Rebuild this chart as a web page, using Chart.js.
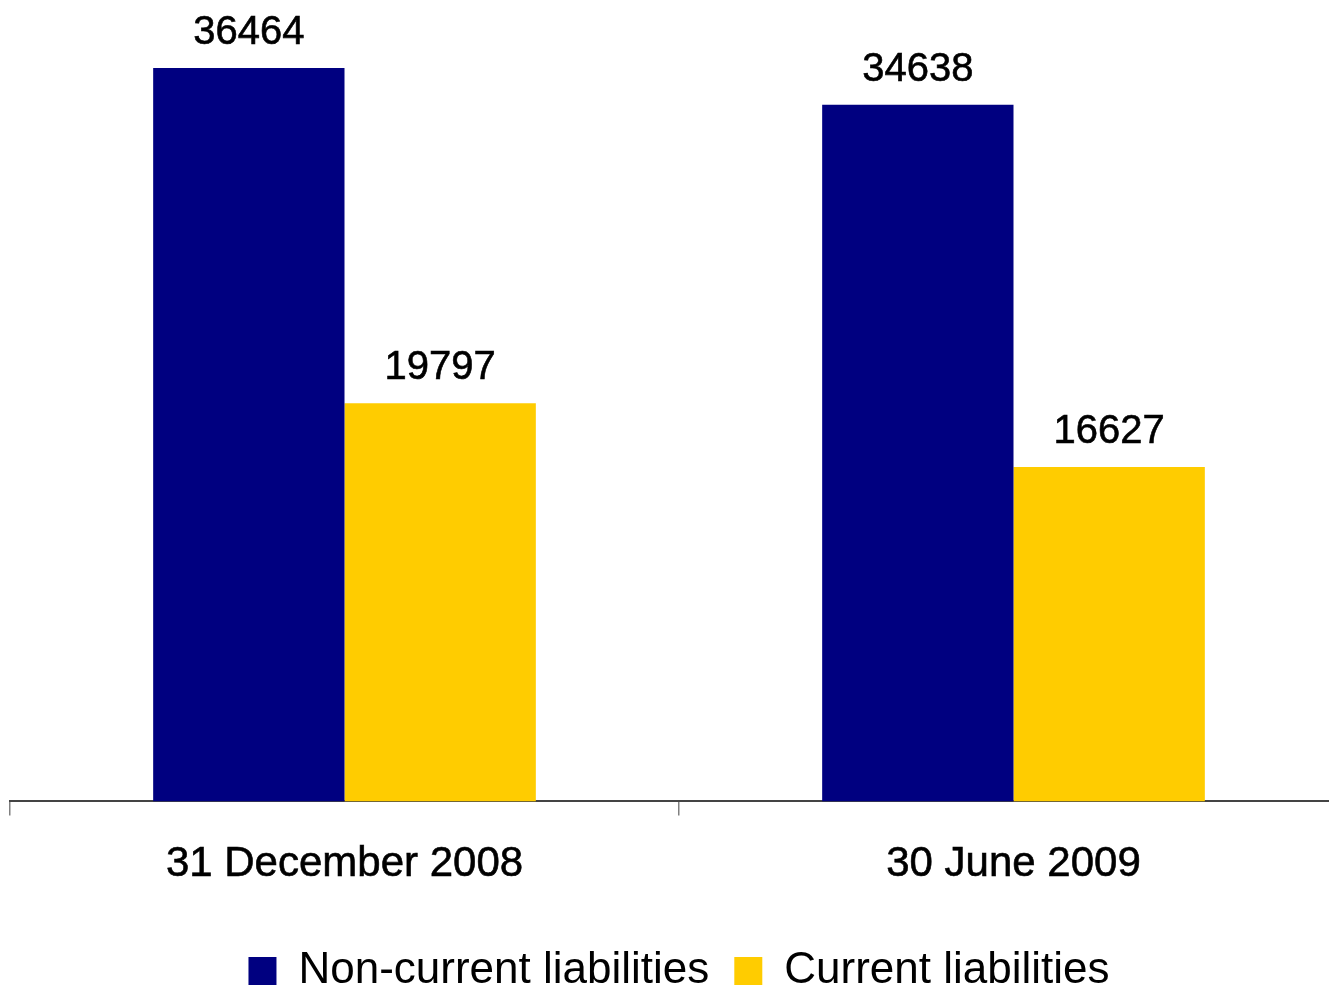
<!DOCTYPE html>
<html>
<head>
<meta charset="utf-8">
<script src="https://cdn.jsdelivr.net/npm/chart.js@4"></script>
<style>
  html, body { margin: 0; padding: 0; background: #fff; overflow: hidden; }
  #wrap { position: absolute; left: 0; top: -3px; width: 1348px; height: 1006px; }
</style>
</head>
<body>
<div id="wrap"><canvas id="liabChart"></canvas></div>
<script>
// data
const periods = ['31 December 2008', '30 June 2009'];
const nonCurrent = [36464, 34638];
const current = [19797, 16627];

// value labels above the bars
const barValues = {
  id: 'barValues',
  afterDatasetsDraw(chart) {
    const ctx = chart.ctx;
    ctx.save();
    ctx.font = '40px "Liberation Sans", Arial, sans-serif';
    ctx.fillStyle = '#000';
    ctx.strokeStyle = '#000';
    ctx.lineWidth = 0.6;
    ctx.textAlign = 'center';
    ctx.textBaseline = 'alphabetic';
    chart.data.datasets.forEach((ds, i) => {
      chart.getDatasetMeta(i).data.forEach((bar, j) => {
        const txt = String(ds.data[j]);
        ctx.fillText(txt, bar.x, bar.y - 24);
        ctx.strokeText(txt, bar.x, bar.y - 24);
      });
    });
    ctx.restore();
  }
};

new Chart(document.getElementById('liabChart'), {
  type: 'bar',
  data: {
    labels: periods,
    datasets: [
      { label: 'Non-current liabilities', data: nonCurrent, backgroundColor: '#000080' },
      { label: 'Current liabilities', data: current, backgroundColor: '#FFCC00' }
    ]
  },
  options: {
    responsive: true,
    maintainAspectRatio: false,
    animation: false,
    layout: { padding: { left: 10, right: 0, top: 0, bottom: 0 } },
    datasets: { bar: { categoryPercentage: 0.572, barPercentage: 1 } },
    scales: {
      x: {
        grid: { drawOnChartArea: false, drawTicks: true, tickLength: 14, color: '#808080', lineWidth: 1.5 },
        border: { display: true, color: '#444', width: 2 },
        ticks: {
          color: '#000', padding: 24,
          textStrokeColor: '#000', textStrokeWidth: 0.6,
          font: { family: '"Liberation Sans", Arial, sans-serif', size: 42 }
        }
      },
      y: {
        display: false,
        beginAtZero: true,
        min: 0,
        max: 40000
      }
    },
    plugins: {
      tooltip: { enabled: false },
      legend: {
        position: 'bottom',
        title: { display: true, text: '', font: { size: 1 }, padding: { top: 9, bottom: 0 } },
        labels: {
          boxWidth: 28,
          boxHeight: 28,
          padding: 25,
          color: '#000',
          font: { family: '"Liberation Sans", Arial, sans-serif', size: 44 }
        }
      }
    }
  },
  plugins: [barValues]
});
</script>
</body>
</html>
